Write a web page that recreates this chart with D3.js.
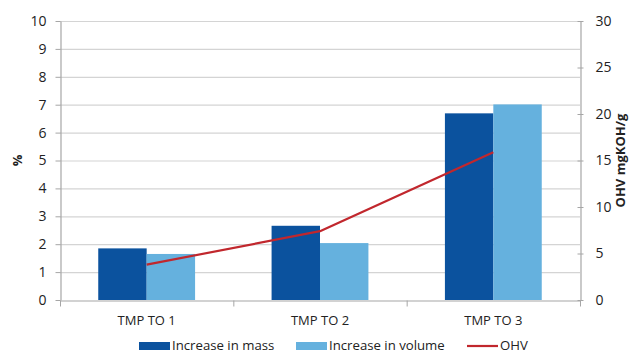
<!DOCTYPE html>
<html>
<head>
<meta charset="utf-8">
<script src="https://cdn.jsdelivr.net/npm/d3@7/dist/d3.min.js"></script>
<style>
  html, body { margin: 0; padding: 0; background: #fff; }
  svg text { font-family: "Open Sans", Calibri, sans-serif; fill: #222; }
</style>
</head>
<body>
<svg id="chart" width="633" height="354"></svg>
<script>
// Samples and measured values
const categories = ["TMP TO 1", "TMP TO 2", "TMP TO 3"];
const massIncrease = [1.85, 2.66, 6.69];     // %
const volumeIncrease = [1.65, 2.04, 7.01];   // %
const ohv = [3.8, 7.4, 15.9];                // mgKOH/g
const leftTicks = [0, 1, 2, 3, 4, 5, 6, 7, 8, 9, 10];
const rightTicks = [0, 5, 10, 15, 20, 25, 30];

const svg = d3.select("#chart");
const margin = { left: 60, right: 53, top: 21, bottom: 54 };
const W = 633, H = 354;
const x0 = margin.left, x1 = W - margin.right;
const y0 = H - margin.bottom, y1 = margin.top;

const x = d3.scaleBand().domain(categories).range([x0, x1]);
const inner = d3.scaleBand().domain(["mass", "volume"]).range([0, x.bandwidth()]).paddingOuter(0.79).paddingInner(0);
const yL = d3.scaleLinear().domain([0, 10]).range([y0, y1]);
const yR = d3.scaleLinear().domain([0, 30]).range([y0, y1]);

const colors = { mass: "#0B529E", volume: "#65B1DE", ohv: "#C1272D" };

// horizontal gridlines
svg.append("g").selectAll("line").data(leftTicks.slice(1)).join("line")
  .attr("x1", x0).attr("x2", x1)
  .attr("y1", d => yL(d) + 0.5).attr("y2", d => yL(d) + 0.5)
  .attr("stroke", "#d4d4d4").attr("stroke-width", 1.2);

// bars
const groups = svg.append("g").selectAll("g").data(categories).join("g")
  .attr("transform", d => `translate(${x(d)},0)`);
groups.append("rect")
  .attr("x", inner("mass")).attr("width", inner.bandwidth())
  .attr("y", (d, i) => yL(massIncrease[i])).attr("height", (d, i) => y0 - yL(massIncrease[i]))
  .attr("fill", colors.mass);
groups.append("rect")
  .attr("x", inner("volume")).attr("width", inner.bandwidth())
  .attr("y", (d, i) => yL(volumeIncrease[i])).attr("height", (d, i) => y0 - yL(volumeIncrease[i]))
  .attr("fill", colors.volume);

// OHV line on the secondary axis
const line = d3.line()
  .x((d, i) => x(categories[i]) + x.bandwidth() / 2)
  .y(d => yR(d));
svg.append("path").datum(ohv).attr("d", line)
  .attr("fill", "none").attr("stroke", colors.ohv).attr("stroke-width", 2.2)
  .attr("stroke-linejoin", "round");

// axes
const axisColor = "#a6a6a6";
const gL = svg.append("g").attr("transform", `translate(${x0 + 0.5},0)`)
  .call(d3.axisLeft(yL).tickValues(leftTicks).tickSize(5).tickSizeOuter(0).tickPadding(9));
const gR = svg.append("g").attr("transform", `translate(${x1 + 0.5},0)`)
  .call(d3.axisRight(yR).tickValues(rightTicks).tickSize(5).tickSizeOuter(0).tickPadding(10));
// right axis ticks cross the axis line
gR.selectAll(".tick line").attr("x1", -3).attr("x2", 3);

const gX = svg.append("g").attr("transform", `translate(0,${y0 + 0.5})`)
  .call(d3.axisBottom(x).tickSize(0).tickSizeOuter(0).tickPadding(15));
// category boundary ticks
gX.selectAll(".boundary").data(d3.range(categories.length + 1)).join("line")
  .attr("x1", i => x0 + i * x.step() + 0.5).attr("x2", i => x0 + i * x.step() + 0.5)
  .attr("y1", 0).attr("y2", 6).attr("stroke", axisColor);

[gL, gR, gX].forEach(g => {
  g.selectAll(".domain").attr("stroke", axisColor).attr("stroke-width", 1.2);
  g.selectAll(".tick line").attr("stroke", axisColor);
  g.selectAll("text").attr("font-size", 14).attr("fill", "#333")
    .attr("font-family", "'Open Sans', sans-serif");
});
gX.selectAll("text").attr("font-size", 13);

// axis titles
svg.append("text").attr("transform", `translate(22,${(y0 + y1) / 2}) rotate(-90)`)
  .attr("text-anchor", "middle").attr("font-weight", "bold").attr("font-size", 13).text("%");
svg.append("text").attr("transform", `translate(625,${(y0 + y1) / 2}) rotate(-90)`)
  .attr("text-anchor", "middle").attr("font-weight", "bold").attr("font-size", 13).text("OHV mgKOH/g");

// legend
const legendItems = [
  { label: "Increase in mass", type: "rect", color: colors.mass, x: 139 },
  { label: "Increase in volume", type: "rect", color: colors.volume, x: 296 },
  { label: "OHV", type: "line", color: colors.ohv, x: 467 }
];
const ly = 345;
const lg = svg.append("g").selectAll("g").data(legendItems).join("g")
  .attr("transform", d => `translate(${d.x},${ly})`);
lg.filter(d => d.type === "rect").append("rect")
  .attr("x", 0).attr("y", -3).attr("width", 31).attr("height", 8).attr("fill", d => d.color);
lg.filter(d => d.type === "line").append("line")
  .attr("x1", 0).attr("x2", 31).attr("y1", 1).attr("y2", 1)
  .attr("stroke", d => d.color).attr("stroke-width", 2.2);
lg.append("text").attr("x", 33).attr("y", 0).attr("dy", "0.35em")
  .attr("font-size", 13.2).text(d => d.label);
</script>
</body>
</html>
